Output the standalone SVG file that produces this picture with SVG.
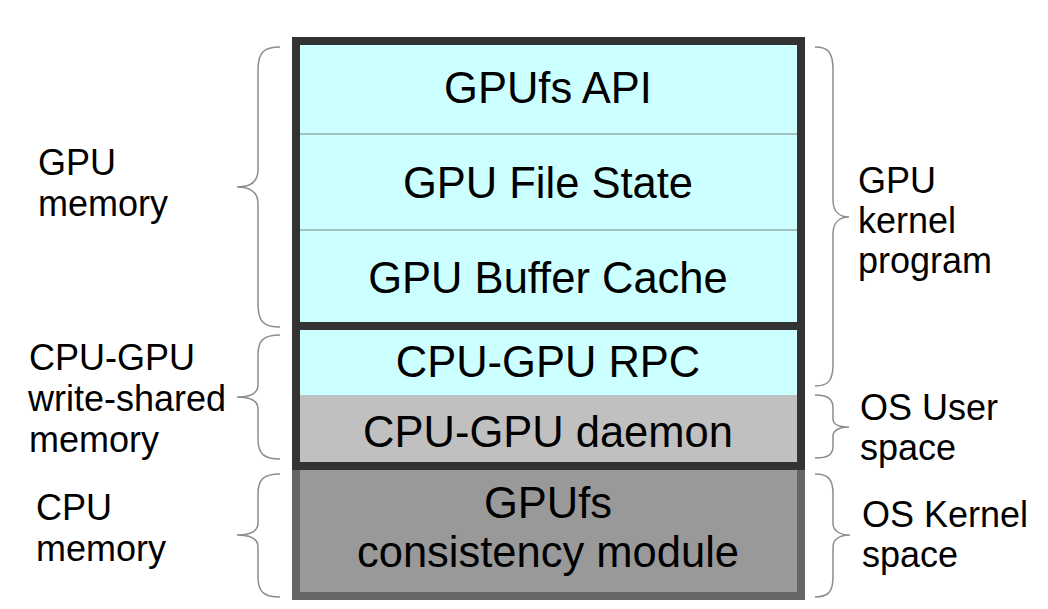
<svg xmlns="http://www.w3.org/2000/svg" width="1048" height="609" viewBox="0 0 1048 609">
<style>
.t{font-family:"Liberation Sans",Arial,sans-serif;font-size:43.5px;fill:#000;text-anchor:middle}
.l{font-family:"Liberation Sans",Arial,sans-serif;font-size:36px;fill:#000}
.br{fill:none;stroke:#8c8c8c;stroke-width:1.5}
.sep{stroke:#808080;stroke-width:1.2}
</style>
<rect width="1048" height="609" fill="#fff"/>
<g id="cpu-kernel">
<rect x="296" y="466" width="505" height="130" fill="#999" stroke="#666" stroke-width="8"/>
<text class="t" x="548" y="518">GPUfs</text>
<text class="t" x="548" y="567">consistency module</text>
</g>
<g id="gpu-stack">
<rect x="296" y="41" width="505" height="354" fill="#ccffff"/>
<rect x="296" y="395" width="505" height="71" fill="#c0c0c0"/>
<line class="sep" x1="300" y1="134" x2="797" y2="134"/>
<line class="sep" x1="300" y1="230" x2="797" y2="230"/>
<line x1="296" y1="326" x2="801" y2="326" stroke="#333" stroke-width="8"/>
<rect x="296" y="41" width="505" height="425" fill="none" stroke="#333" stroke-width="8"/>
</g>
<g id="gpufs-api"><text class="t" x="548" y="103">GPUfs API</text></g>
<g id="gpu-file-state"><text class="t" x="548" y="198">GPU File State</text></g>
<g id="gpu-buffer-cache"><text class="t" x="548" y="293">GPU Buffer Cache</text></g>
<g id="cpu-gpu-rpc"><text class="t" x="548" y="377">CPU-GPU RPC</text></g>
<g id="cpu-gpu-daemon"><text class="t" x="548" y="447">CPU-GPU daemon</text></g>
<g id="connectors">
<path class="br" d="M280,47 C264,47 258,52 258,70 L258,170 C258,182 250,187 237,187 C250,187 258,192 258,204 L258,304 C258,322 264,327 280,327"/>
<path class="br" d="M280,335 C264,335 258,340 258,355 L258,385 C258,393 250,397 237,397 C250,397 258,401 258,409 L258,439 C258,454 264,459 280,459"/>
<path class="br" d="M280,474 C264,474 258,479 258,494 L258,523 C258,531 250,535 237,535 C250,535 258,539 258,547 L258,577 C258,592 264,597 280,597"/>
<path class="br" d="M815,47 C828,47 833,52 833,70 L833,200 C833,212 840,217 849,217 C840,217 833,222 833,234 L833,364 C833,381 828,386 815,386"/>
<path class="br" d="M815,395 C828,395 833,399 833,408 L833,419 C833,425 840,427 849,427 C840,427 833,430 833,436 L833,446 C833,455 828,458 815,458"/>
<path class="br" d="M815,474 C828,474 833,479 833,494 L833,523 C833,531 840,535 850,535 C840,535 833,539 833,547 L833,577 C833,592 828,597 815,597"/>
</g>
<g id="lbl-gpu-memory"><text class="l" x="38" y="175">GPU</text><text class="l" x="38" y="216">memory</text></g>
<g id="lbl-shared-memory"><text class="l" x="29" y="370">CPU-GPU</text><text class="l" x="28" y="411">write-shared</text><text class="l" x="29" y="452">memory</text></g>
<g id="lbl-cpu-memory"><text class="l" x="36" y="520">CPU</text><text class="l" x="36" y="561">memory</text></g>
<g id="lbl-gpu-kernel"><text class="l" x="858" y="193">GPU</text><text class="l" x="858" y="233">kernel</text><text class="l" x="858" y="273">program</text></g>
<g id="lbl-os-user"><text class="l" x="860" y="420">OS User</text><text class="l" x="860" y="460">space</text></g>
<g id="lbl-os-kernel"><text class="l" x="862" y="527">OS Kernel</text><text class="l" x="862" y="567">space</text></g>
</svg>
